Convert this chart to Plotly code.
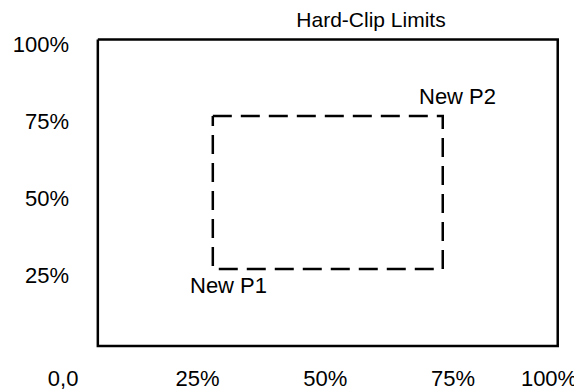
import plotly.graph_objects as go

# data space: x/y in percent of the screen
HARD_CLIP_X = [5.5, 95.5]
HARD_CLIP_Y = [2.1, 101.6]
NEW_X = [28.0, 73.0]
NEW_Y = [27.1, 76.8]

X_TICKVALS = [-1.3, 25, 50, 75, 93.8]
X_TICKTEXT = ["0,0", "25%", "50%", "75%", "100%"]
Y_TICKVALS = [25, 50, 75, 100]
Y_TICKTEXT = ["25%", "50%", "75%", "100%"]

P1_LABEL = (31.0, 21.6, "New P1")
P2_LABEL = (75.8, 83.2, "New P2")

FONT = "Liberation Sans, Arial, Helvetica, sans-serif"

# the page body keeps its default 8px margin, so the figure is 8px smaller
W, H = 574, 383


def rect_path(xs, ys):
    x0, x1 = xs
    y0, y1 = ys
    return [x0, x1, x1, x0, x0], [y1, y1, y0, y0, y1]


fig = go.Figure()

hx, hy = rect_path(HARD_CLIP_X, HARD_CLIP_Y)
fig.add_trace(go.Scatter(
    x=hx, y=hy, mode="lines",
    line=dict(color="black", width=2.5),
    hoverinfo="skip", showlegend=False,
))

nx, ny = rect_path(NEW_X, NEW_Y)
fig.add_trace(go.Scatter(
    x=nx, y=ny, mode="lines",
    line=dict(color="black", width=2.5, dash="19px,9px"),
    hoverinfo="skip", showlegend=False,
))

for lx, ly, txt in [P1_LABEL, P2_LABEL]:
    fig.add_annotation(x=lx, y=ly, text=txt, showarrow=False,
                       xanchor="center", yanchor="middle",
                       font=dict(size=22, color="black", family=FONT))

fig.update_layout(
    width=W, height=H, autosize=False,
    margin=dict(l=0, r=0, t=0, b=0),
    paper_bgcolor="white", plot_bgcolor="white",
    font=dict(family=FONT, size=22, color="black"),
    title=dict(text="Hard-Clip Limits", x=363 / W, xanchor="center",
               y=1 - 4 / H, yanchor="top", pad=dict(t=0, b=0),
               font=dict(size=21, color="black", family=FONT)),
    xaxis=dict(
        range=[-12.08, 100.25], anchor="free", position=(H - 355) / H,
        tickvals=X_TICKVALS, ticktext=X_TICKTEXT,
        showgrid=False, zeroline=False, showline=False, ticks="",
        fixedrange=True,
    ),
    yaxis=dict(
        range=[-12.5, 111.85], anchor="free", position=61 / W,
        tickvals=Y_TICKVALS, ticktext=Y_TICKTEXT,
        showgrid=False, zeroline=False, showline=False, ticks="",
        fixedrange=True,
    ),
)

fig.write_html("out.html")
